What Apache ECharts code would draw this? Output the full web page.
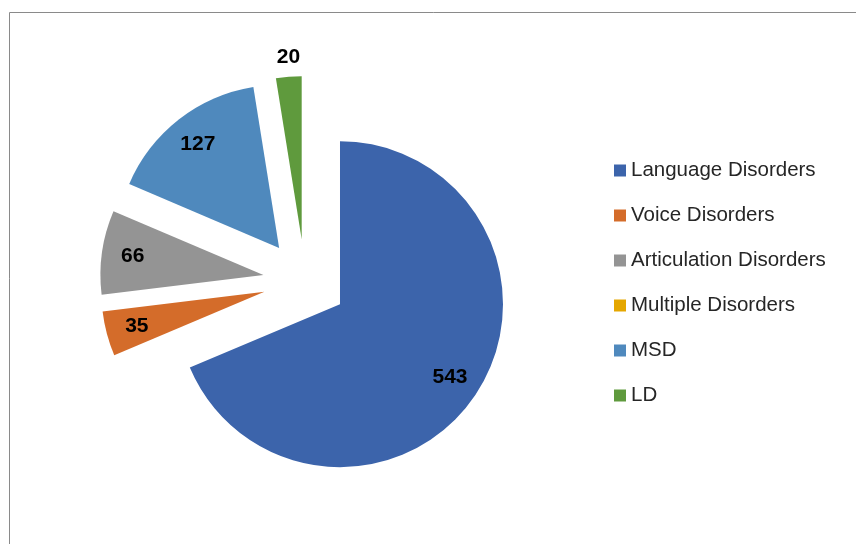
<!DOCTYPE html>
<html>
<head>
<meta charset="utf-8">
<script src="https://cdn.jsdelivr.net/npm/echarts@6/dist/echarts.min.js"></script>
<style>
  html, body { margin: 0; padding: 0; background: #fff; }
  #chart { width: 856px; height: 544px; }
</style>
</head>
<body>
<div id="chart"></div>
<script>
const categories = ['Language Disorders', 'Voice Disorders', 'Articulation Disorders', 'Multiple Disorders', 'MSD', 'LD']
const counts = [543, 35, 66, 0, 127, 20]
const colors = ['#3c64ab', '#d46c2a', '#949494', '#e5a700', '#4f89bd', '#5f9a3d']

const total = counts.reduce((a, b) => a + b, 0)
const isSmall = (v) => v > 0 && v / total < 0.03

const center = [305, 281]
const explode = 42
const labelFont = { fontFamily: 'Liberation Sans', fontSize: 21, fontWeight: 'bold', color: '#000' }

const chart = echarts.init(document.getElementById('chart'))

chart.setOption({
  animation: false,
  color: colors,
  graphic: [
    {
      type: 'rect',
      shape: { x: 9.5, y: 12.5, width: 900, height: 600 },
      style: { fill: 'none', stroke: '#8a8a8a', lineWidth: 1 },
      silent: true,
    },
  ],
  legend: {
    orient: 'vertical',
    left: 614,
    top: 160,
    padding: 0,
    icon: 'rect',
    itemWidth: 12,
    itemHeight: 12,
    itemGap: 25,
    selectedMode: false,
    data: categories,
    textStyle: {
      fontFamily: 'Liberation Sans',
      fontSize: 20.5,
      lineHeight: 20,
      color: '#262626',
    },
  },
  series: [
    {
      name: 'main',
      type: 'pie',
      center: center,
      radius: 163,
      startAngle: 90,
      clockwise: true,
      selectedMode: 'multiple',
      selectedOffset: explode,
      avoidLabelOverlap: false,
      emphasis: { disabled: true },
      itemStyle: { borderWidth: 0 },
      label: {
        show: true,
        position: 'outside',
        formatter: '{c}',
        ...labelFont,
        distanceToLabelLine: -13,
      },
      labelLine: { show: false, length: 20, length2: 0 },
      data: categories.map((name, i) => ({
        name,
        value: counts[i],
        selected: true,
        label: { show: isSmall(counts[i]) },
      })),
    },
    {
      name: 'labels',
      type: 'pie',
      center: center,
      radius: 258,
      startAngle: 90,
      clockwise: true,
      silent: true,
      selectedMode: 'multiple',
      selectedOffset: explode,
      avoidLabelOverlap: false,
      emphasis: { disabled: true },
      itemStyle: { color: 'rgba(0,0,0,0)' },
      label: { show: true, position: 'inside', formatter: '{c}', ...labelFont },
      labelLine: { show: false },
      data: categories.map((name, i) => ({
        name,
        value: counts[i],
        selected: true,
        label: { show: counts[i] > 0 && !isSmall(counts[i]) },
      })),
    },
  ],
})

chart.setOption({ legend: { itemGap: 24 } })
</script>
</body>
</html>
